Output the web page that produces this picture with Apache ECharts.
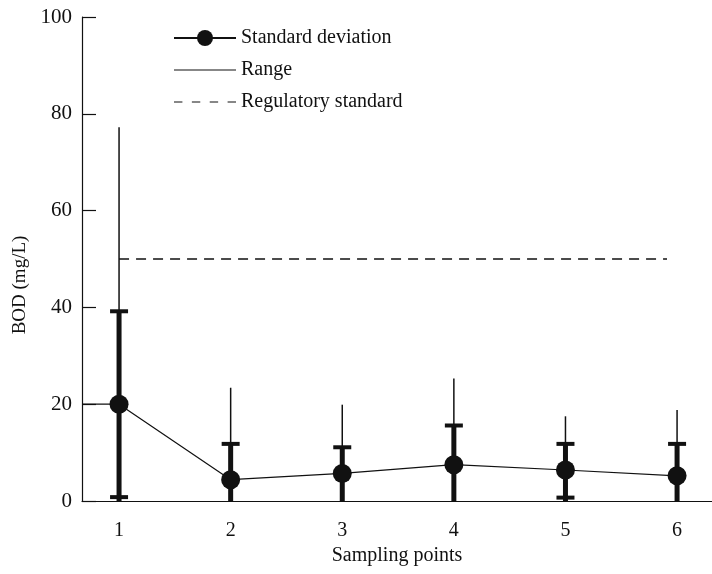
<!DOCTYPE html>
<html>
<head>
<meta charset="utf-8">
<script src="https://cdn.jsdelivr.net/npm/echarts@6/dist/echarts.min.js"></script>
<style>
  html, body { margin: 0; padding: 0; background: #fff; }
  #chart { width: 712px; height: 574px; }
</style>
</head>
<body>
<div id="chart"></div>
<script>
// sampling points and BOD values (mg/L)
const points = [1, 2, 3, 4, 5, 6]
const means = [20, 4.4, 5.7, 7.5, 6.4, 5.2]
const sdUpper = [39.2, 11.8, 11.1, 15.6, 11.8, 11.8]
const sdLower = [0.8, 0, 0, 0, 0.7, 0]
const rangeMax = [77.2, 23.4, 19.9, 25.3, 17.5, 18.8]
const rangeMin = [0, 0, 0, 0, 0, 0]
const regStandard = 50
const regFrom = 1
const regTo = 5.91
const yTicks = [0, 20, 40, 60, 80, 100]

const xMin = 0.668
const xMax = 6.313
const font = 'Liberation Serif'
const ink = '#111'

const meanData = [{ value: [xMin, means[0]], symbol: 'none' }]
points.forEach((p, i) => meanData.push([p, means[i]]))

const chart = echarts.init(document.getElementById('chart'))

chart.setOption({
  animation: false,
  backgroundColor: '#fff',
  textStyle: { fontFamily: font, color: ink },
  legend: {
    orient: 'vertical',
    left: 168,
    top: 23,
    itemWidth: 62,
    itemHeight: 20,
    itemGap: 12,
    textStyle: { fontFamily: font, fontSize: 20, color: ink },
    data: [
      { name: 'Standard deviation' },
      { name: 'Range', icon: 'path://M0,0H60V1H0Z' },
      {
        name: 'Regulatory standard',
        icon: 'path://M0,0H8V1H0Z M17,0H25V1H17Z M34,0H42V1H34Z M51,0H59V1H51Z'
      }
    ]
  },
  grid: { left: 82, right: 0, top: 17, bottom: 73 },
  xAxis: {
    type: 'value',
    min: xMin,
    max: xMax,
    name: 'Sampling points',
    nameLocation: 'middle',
    nameGap: 45,
    nameTextStyle: { fontFamily: font, fontSize: 20, color: ink },
    axisLine: { lineStyle: { color: ink, width: 1.2 } },
    axisTick: { show: false },
    splitLine: { show: false },
    axisLabel: {
      customValues: points,
      fontFamily: font,
      fontSize: 20,
      color: ink,
      margin: 20
    }
  },
  yAxis: {
    type: 'value',
    min: 0,
    max: 100,
    interval: 20,
    name: 'BOD (mg/L)',
    nameLocation: 'middle',
    nameRotate: 90,
    nameGap: 48,
    nameTextStyle: { fontFamily: font, fontSize: 19, color: ink, padding: [0, 52, 0, 0] },
    axisLine: { show: true, lineStyle: { color: ink, width: 1.2 } },
    axisTick: { show: true, inside: true, length: 14, lineStyle: { color: ink, width: 1.2 } },
    splitLine: { show: false },
    axisLabel: {
      customValues: yTicks,
      fontFamily: font,
      fontSize: 21,
      color: ink,
      margin: 10
    }
  },
  series: [
    {
      name: 'Range',
      type: 'custom',
      itemStyle: { color: ink },
      data: points.map((p, i) => [p, rangeMin[i], rangeMax[i]]),
      renderItem: (params, api) => {
        const lo = api.coord([api.value(0), api.value(1)])
        const hi = api.coord([api.value(0), api.value(2)])
        return {
          type: 'line',
          shape: { x1: lo[0], y1: lo[1], x2: hi[0], y2: hi[1] },
          style: { stroke: ink, lineWidth: 1.5 }
        }
      }
    },
    {
      name: 'sd',
      type: 'custom',
      itemStyle: { color: ink },
      data: points.map((p, i) => [p, sdLower[i], sdUpper[i]]),
      renderItem: (params, api) => {
        const x = api.value(0)
        const lo = api.coord([x, 0])
        const loCap = api.coord([x, api.value(1)])
        const hi = api.coord([x, api.value(2)])
        const half = 9
        const children = [
          {
            type: 'line',
            shape: { x1: lo[0], y1: lo[1], x2: hi[0], y2: hi[1] },
            style: { stroke: ink, lineWidth: 5 }
          },
          {
            type: 'line',
            shape: { x1: hi[0] - half, y1: hi[1], x2: hi[0] + half, y2: hi[1] },
            style: { stroke: ink, lineWidth: 4 }
          }
        ]
        if (api.value(1) > 0) {
          children.push({
            type: 'line',
            shape: { x1: loCap[0] - half, y1: loCap[1], x2: loCap[0] + half, y2: loCap[1] },
            style: { stroke: ink, lineWidth: 4 }
          })
        }
        return { type: 'group', children }
      }
    },
    {
      name: 'Regulatory standard',
      type: 'line',
      symbol: 'none',
      lineStyle: { color: ink, width: 1.3, type: [10, 7] },
      itemStyle: { color: ink },
      data: [[regFrom, regStandard], [regTo, regStandard]]
    },
    {
      name: 'Standard deviation',
      type: 'line',
      symbol: 'circle',
      symbolSize: 19,
      z: 5,
      lineStyle: { color: ink, width: 1.2 },
      itemStyle: { color: ink },
      data: meanData
    }
  ]
})
</script>
</body>
</html>
